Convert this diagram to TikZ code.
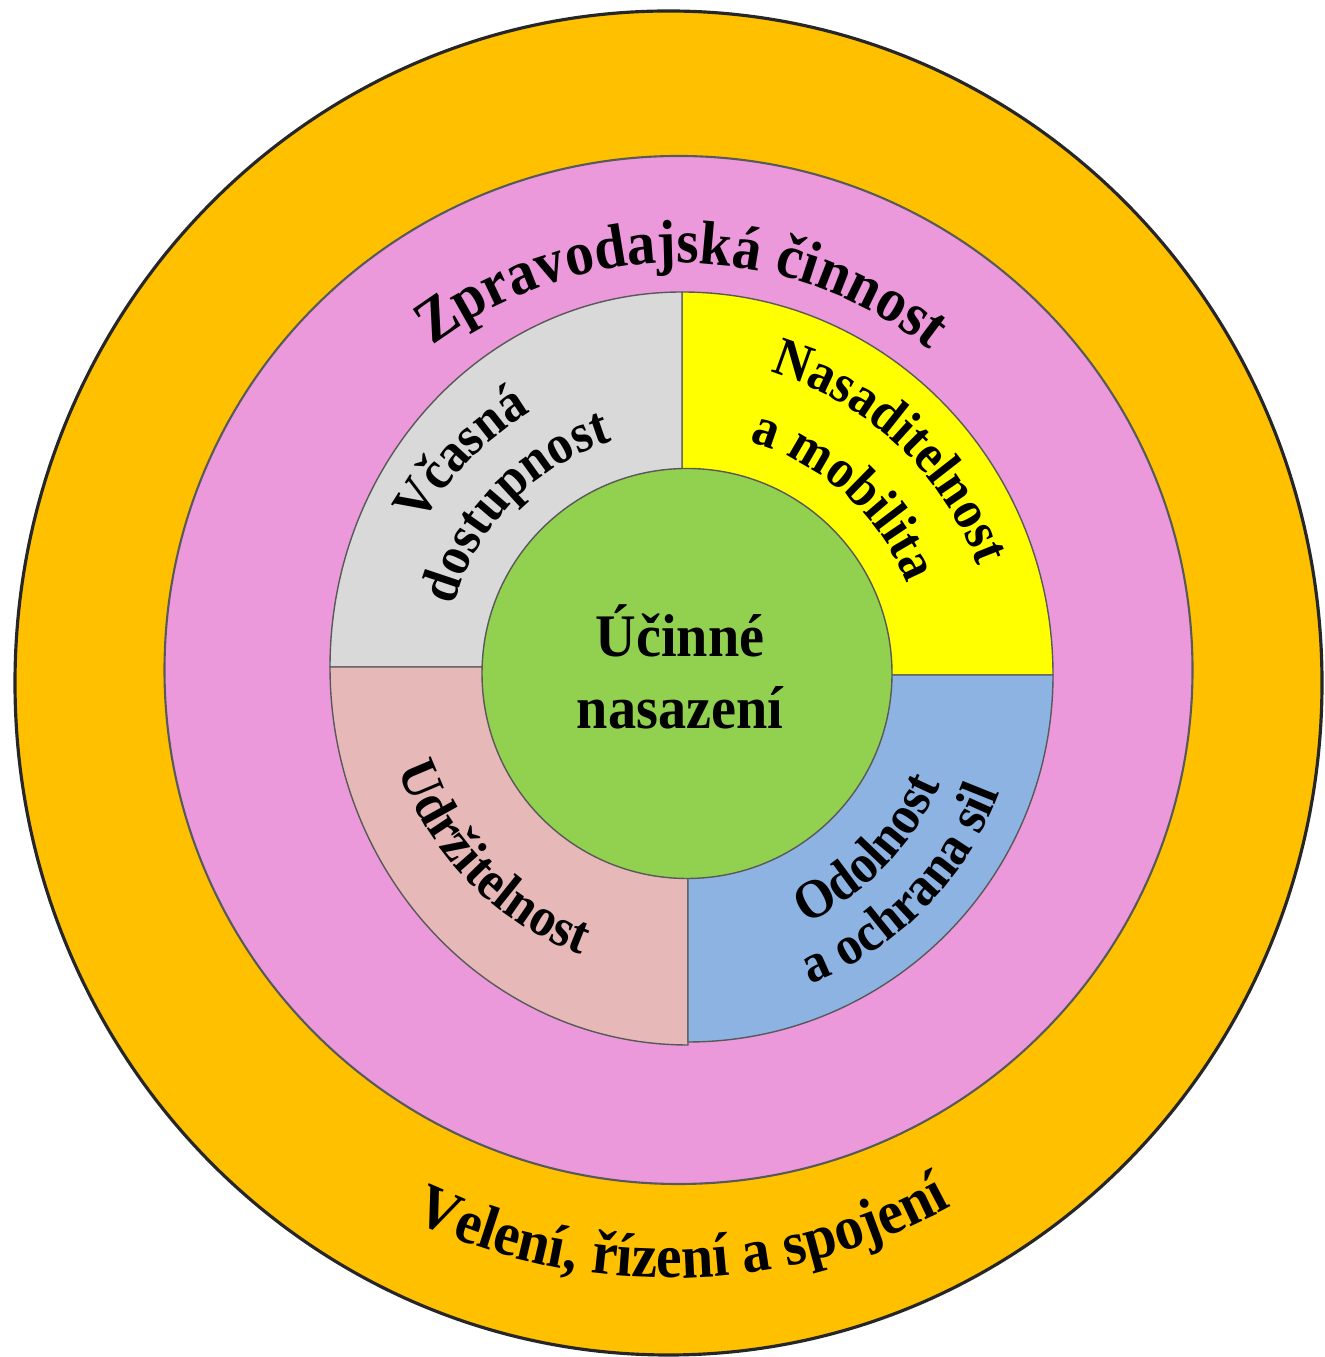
\documentclass[tikz,border=0pt]{standalone}
\usepackage{fontspec}
\setmainfont{Liberation Serif}
\newfontfamily\tallserif[FakeStretch=0.93]{Liberation Serif}
\usetikzlibrary{decorations.text}

\definecolor{ringorange}{HTML}{FFC000}
\definecolor{ringpink}{HTML}{EC99DC}
\definecolor{partgrey}{HTML}{D9D9D9}
\definecolor{partyellow}{HTML}{FFFF00}
\definecolor{partrose}{HTML}{E6B8B7}
\definecolor{partblue}{HTML}{8DB3E2}
\definecolor{coregreen}{HTML}{92D050}

\newcommand{\ringfont}{\tallserif\fontsize{17.6}{21}\selectfont\bfseries}
\newcommand{\partfont}{\tallserif\fontsize{15.6}{18}\selectfont\bfseries}
\newcommand{\corefont}{\tallserif\fontsize{17.2}{20.5}\selectfont\bfseries}

\tikzset{
    edge/.style={draw=black!65, line width=0.4pt},
    curved/.style={decorate, decoration={text along path, text align=center}},
}

\begin{document}
\begin{tikzpicture}
        \useasboundingbox (0,0) rectangle (13.24,13.57);
        \coordinate (outer) at (6.685,6.74);
        \coordinate (inner) at (6.785,6.87);
        \coordinate (nw) at (6.82,6.90);
        \coordinate (ne) at (6.82,6.82);
        \coordinate (sw) at (6.88,6.90);
        \coordinate (se) at (6.88,6.82);
        \fill[white] (0,0) rectangle (13.24,13.57);
        \draw[fill=ringorange, draw=black!85, line width=0.9pt] (outer) ellipse[x radius=6.535, y radius=6.72];
        \draw[edge, fill=ringpink, line width=0.6pt] (inner) circle[radius=5.14];
        \foreach \c/\rx/\ry/\a/\col in {ne/3.71/3.83/0/partyellow, nw/3.52/3.75/90/partgrey,
                                        sw/3.58/3.78/180/partrose, se/3.65/3.67/270/partblue} {
            \draw[edge, fill=\col] (\c) -- ++({\rx*cos(\a)},{\ry*sin(\a)})
                arc[start angle=\a, delta angle=90, x radius=\rx, y radius=\ry] -- cycle;
        }
        \draw[edge, fill=coregreen] (6.87,6.835) circle[radius=2.05];
        \node[font=\corefont, align=center] (core) at (6.80,6.90) {Účinné\\nasazení};
        \path[curved, decoration={text={|\ringfont|Zpravodajská činnost}}]
            ([shift={(144.5:4.07)}]inner) arc[start angle=144.5, end angle=34.5, radius=4.07];
        \path[curved, decoration={text={|\ringfont|Velení, řízení a spojení}}]
            ([shift={(226.5:5.95)}]outer) arc[start angle=226.5, end angle=316.5, radius=5.95];
        \path[curved, decoration={text={|\partfont|Včasná}}]
            ([shift={(181:2.96)}]nw) arc[start angle=181, end angle=91, radius=2.96];
        \path[curved, decoration={text={|\partfont|dostupnost}}]
            ([shift={(181:2.36)}]nw) arc[start angle=181, end angle=91, radius=2.36];
        \path[curved, decoration={text={|\partfont|Nasaditelnost}}]
            ([shift={(92:3.15)}]ne) arc[start angle=92, end angle=2, radius=3.15];
        \path[curved, decoration={text={|\partfont|a mobilita}}]
            ([shift={(93:2.43)}]ne) arc[start angle=93, end angle=3, radius=2.43];
        \path[curved, decoration={text={|\partfont|Udržitelnost}}]
            ([shift={(179.5:3.07)}]sw) arc[start angle=179.5, end angle=269.5, radius=3.07];
        \path[curved, decoration={text={|\partfont|Odolnost}}]
            ([shift={(271:2.75)}]se) arc[start angle=271, end angle=361, radius=2.75];
        \path[curved, decoration={text={|\partfont|a ochrana sil}}]
            ([shift={(270.5:3.33)}]se) arc[start angle=270.5, end angle=360.5, radius=3.33];
\end{tikzpicture}
\end{document}
